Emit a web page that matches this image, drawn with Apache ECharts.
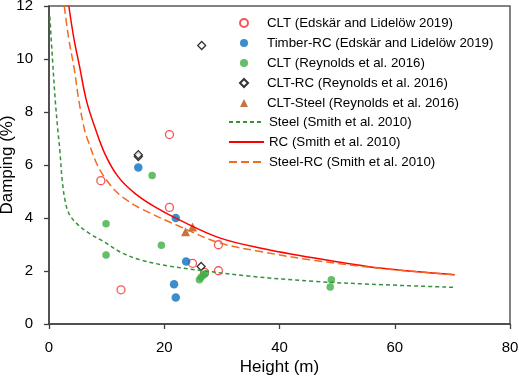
<!DOCTYPE html>
<html>
<head>
<meta charset="utf-8">
<script src="https://cdn.jsdelivr.net/npm/echarts@6/dist/echarts.min.js"></script>
<style>html,body{margin:0;padding:0;background:#fff;}#c{width:519px;height:376px;}</style>
</head>
<body>
<div id="c"></div>
<script>
// Series names
const seriesNames = [
  'CLT (Edskär and Lidelöw 2019)',
  'Timber-RC (Edskär and Lidelöw 2019)',
  'CLT (Reynolds et al. 2016)',
  'CLT-RC (Reynolds et al. 2016)',
  'CLT-Steel (Reynolds et al. 2016)',
  'Steel (Smith et al. 2010)',
  'RC (Smith et al. 2010)',
  'Steel-RC (Smith et al. 2010)'
];
// [height (m), damping (%)]
const cltEdskar = [[9.0,5.41],[12.5,1.29],[20.9,4.40],[20.9,7.15],[24.9,2.29],[29.4,2.99],[29.4,2.01],[27.0,1.95]];
const timberRC = [[15.5,5.91],[22.0,4.0],[23.8,2.36],[21.7,1.5],[22.0,1.0]];
const cltReynolds = [[17.9,5.6],[9.9,3.78],[9.9,2.6],[19.5,2.97],[26.1,1.67],[26.4,1.76],[26.8,1.85],[27.1,1.9],[49.0,1.67],[48.8,1.40]];
const cltRC = [[15.5,6.32],[15.5,6.39],[26.5,10.51],[26.4,2.17]];
const cltSteel = [[23.7,3.48],[24.9,3.66]];
const steelCurve = [[0.15,11.6],[0.6,10.0],[1.1,8.4],[1.5,7.4],[1.9,6.5],[2.3,5.4],[2.8,4.65],[3.5,4.15],[5.0,3.75],[7.0,3.42],[9.7,3.08],[12.5,2.7],[15.7,2.43],[20.5,2.2],[26,2.03],[35,1.8],[46,1.61],[56,1.5],[70.5,1.38]];
const rcCurve = [[3.44,12],[4.3,10.8],[5.3,9.72],[6.46,8.46],[7.9,7.46],[9.64,6.45],[11.95,5.57],[14.85,4.94],[18.3,4.43],[22.7,3.92],[29.6,3.25],[36.6,2.87],[46.1,2.49],[57.4,2.11],[70.4,1.86]];
const steelRCCurve = [[2.65,12],[3.4,10.8],[4.4,9.6],[5.2,8.4],[6.2,7.3],[6.8,6.9],[8.5,5.95],[10.8,5.2],[13,4.75],[16,4.35],[22.7,3.68],[29.6,3.06],[36.6,2.74],[46,2.4],[57.4,2.1],[70.4,1.86]];
const xTicks = {min:0, max:80, interval:20};
const yTicks = {min:0, max:12, interval:2};

const font = 'Liberation Sans';
const axisCol = '#404040';
const legendText = {fontFamily:font, fontSize:13.3, color:'#000', lineHeight:14};
const chart = echarts.init(document.getElementById('c'), null, {renderer:'canvas'});
chart.setOption({
  animation:false,
  backgroundColor:'#fff',
  grid:{left:49, right:9, top:6, bottom:52, show:true, borderColor:'#595959', borderWidth:1.5,
        containLabel:false, outerBoundsMode:'none'},
  legend:[
    {
      orient:'vertical', left:234, top:11, itemWidth:8, itemHeight:8, itemGap:6,
      textStyle:Object.assign({padding:[0,0,0,14]}, legendText),
      data:seriesNames.slice(0,5)
    },
    {
      orient:'vertical', left:223, top:110, itemWidth:35, itemHeight:8, itemGap:6,
      textStyle:legendText,
      data:seriesNames.slice(5).map(n => ({name:n, itemStyle:{opacity:0}}))
    }
  ],
  xAxis:{
    type:'value', min:xTicks.min, max:xTicks.max, interval:xTicks.interval,
    name:'Height (m)', nameLocation:'middle', nameGap:35, nameMoveOverlap:false,
    nameTextStyle:{fontFamily:font, fontSize:17, color:'#000'},
    axisLine:{show:true, onZero:false, lineStyle:{color:axisCol, width:1.5}},
    axisTick:{show:true, inside:false, length:5, lineStyle:{color:axisCol, width:1.3}},
    axisLabel:{fontFamily:font, fontSize:15, color:'#000', margin:16},
    splitLine:{show:false}
  },
  yAxis:{
    type:'value', min:yTicks.min, max:yTicks.max, interval:yTicks.interval,
    name:'Damping (%)', nameLocation:'middle', nameGap:33, nameMoveOverlap:false,
    nameTextStyle:{fontFamily:font, fontSize:17, color:'#000'},
    axisLine:{show:true, onZero:false, lineStyle:{color:axisCol, width:1.5}},
    axisTick:{show:true, inside:false, length:5, lineStyle:{color:axisCol, width:1.3}},
    axisLabel:{fontFamily:font, fontSize:15, color:'#000', margin:16},
    splitLine:{show:false}
  },
  series:[
    {name:seriesNames[0], type:'scatter', data:cltEdskar, symbol:'circle', symbolSize:8,
     itemStyle:{color:'#fff', borderColor:'#f52a2a', borderWidth:1.3}},
    {name:seriesNames[1], type:'scatter', data:timberRC, symbol:'circle', symbolSize:8.5,
     itemStyle:{color:'#0a70c2'}},
    {name:seriesNames[2], type:'scatter', data:cltReynolds, symbol:'circle', symbolSize:7.5,
     itemStyle:{color:'#3fae45'}},
    {name:seriesNames[3], type:'scatter', data:cltRC, symbol:'diamond', symbolSize:8,
     itemStyle:{color:'#fff', borderColor:'#000', borderWidth:1.3}},
    {name:seriesNames[4], type:'scatter', data:cltSteel, symbol:'triangle', symbolSize:9,
     itemStyle:{color:'#b8500f'}},
    {name:seriesNames[5], type:'line', data:steelCurve, symbol:'none', smooth:0.35,
     lineStyle:{color:'#3a8f3a', width:1.5, type:[4,3]}, itemStyle:{color:'#3a8f3a'}},
    {name:seriesNames[6], type:'line', data:rcCurve, symbol:'none', smooth:0.35,
     lineStyle:{color:'#ff0000', width:1.5}, itemStyle:{color:'#ff0000'}},
    {name:seriesNames[7], type:'line', data:steelRCCurve, symbol:'none', smooth:0.35,
     lineStyle:{color:'#f26c1e', width:1.5, type:[8,4]}, itemStyle:{color:'#f26c1e'}}
  ]
});
</script>
</body>
</html>
